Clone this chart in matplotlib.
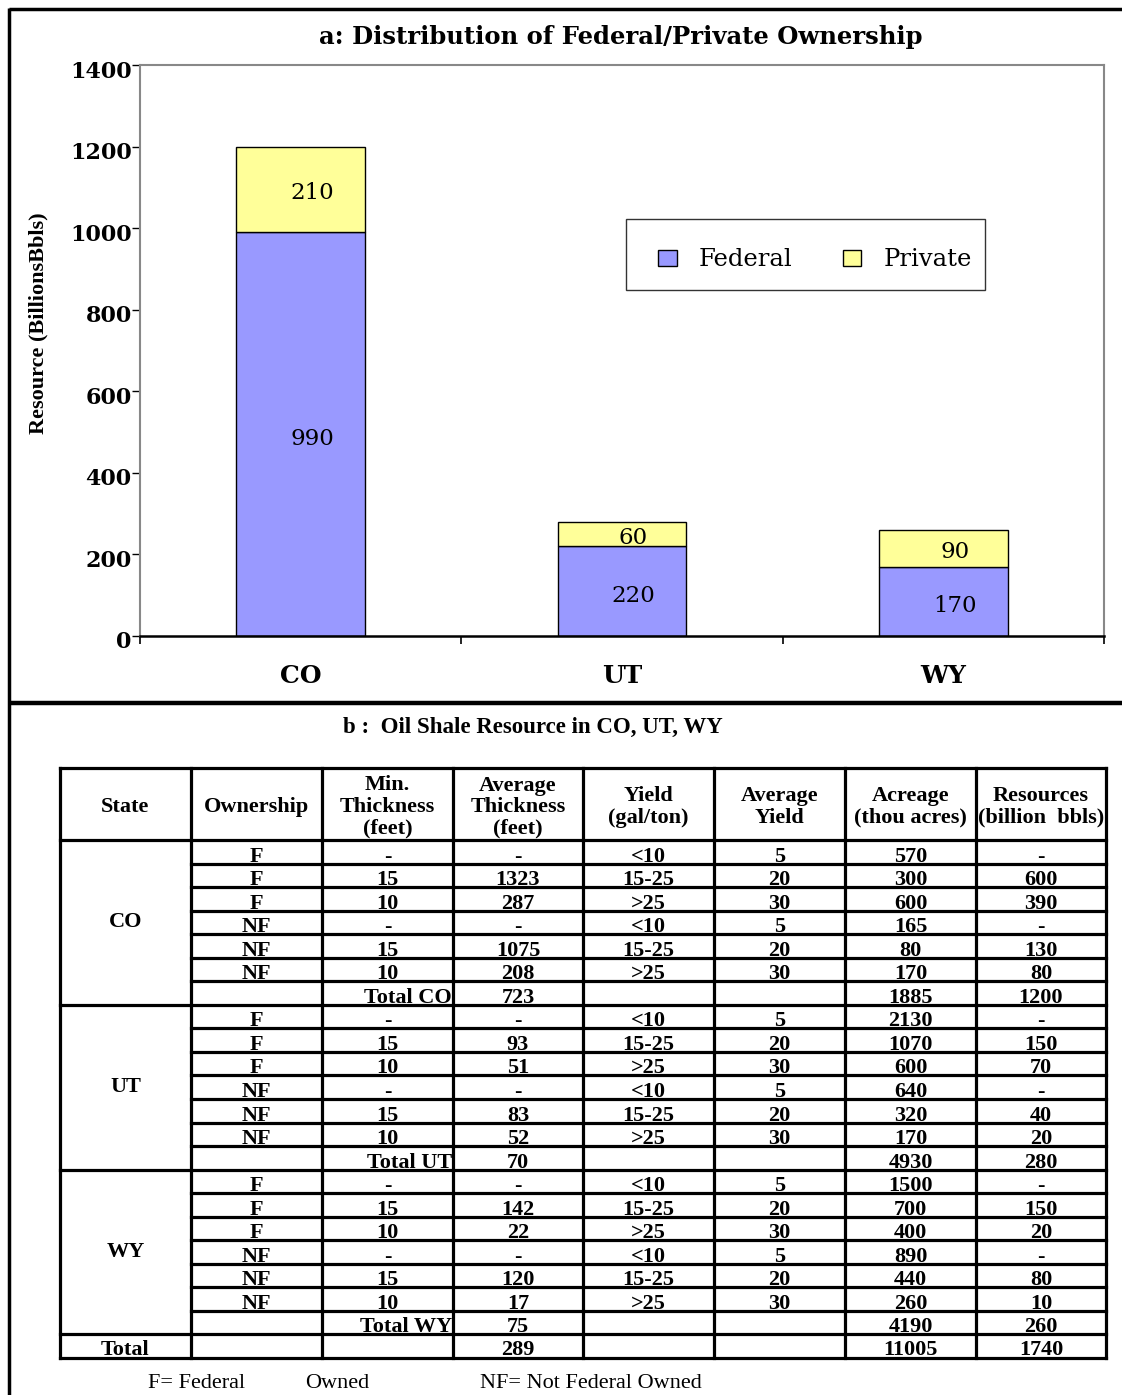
import matplotlib
matplotlib.use("Agg")
import matplotlib.pyplot as plt
import matplotlib.transforms as mtransforms
from matplotlib.patches import Rectangle, Patch

W, H = 1122, 1395

# --- dados do grafico a ---
states = ["CO", "UT", "WY"]
federal = [990, 220, 170]
private = [210, 60, 90]
y_ticks = [0, 200, 400, 600, 800, 1000, 1200, 1400]

# --- dados da tabela b ---
header = ["State", "Ownership", "Min.\nThickness\n(feet)", "Average\nThickness\n(feet)",
          "Yield\n(gal/ton)", "Average\nYield", "Acreage\n(thou acres)", "Resources\n(billion  bbls)"]
ownership = ["F", "F", "F", "NF", "NF", "NF"]
min_thickness = ["-", "15", "10", "-", "15", "10"]
yield_range = ["<10", "15-25", ">25", "<10", "15-25", ">25"]
avg_yield = ["5", "20", "30", "5", "20", "30"]

co_thickness = ["-", "1323", "287", "-", "1075", "208"]
ut_thickness = ["-", "93", "51", "-", "83", "52"]
wy_thickness = ["-", "142", "22", "-", "120", "17"]
co_acreage = ["570", "300", "600", "165", "80", "170"]
ut_acreage = ["2130", "1070", "600", "640", "320", "170"]
wy_acreage = ["1500", "700", "400", "890", "440", "260"]
co_resources = ["-", "600", "390", "-", "130", "80"]
ut_resources = ["-", "150", "70", "-", "40", "20"]
wy_resources = ["-", "150", "20", "-", "80", "10"]

state_totals = {"CO": ["723", "1885", "1200"],
                "UT": ["70", "4930", "280"],
                "WY": ["75", "4190", "260"]}
grand_total = ["289", "11005", "1740"]

blocks = [("CO", co_thickness, co_acreage, co_resources),
          ("UT", ut_thickness, ut_acreage, ut_resources),
          ("WY", wy_thickness, wy_acreage, wy_resources)]

fig = plt.figure(figsize=(W / 100, H / 100), dpi=100)

# camada de desenho em pixels (molduras, tabela, notas)
ov = fig.add_axes([0, 0, 1, 1], zorder=0)
ov.set_xlim(0, W)
ov.set_ylim(H, 0)
ov.axis("off")
ov.patch.set_facecolor("none")

# moldura externa
ov.plot([9, W], [9, 9], color="black", lw=2.5, solid_capstyle="butt")
ov.plot([9, 9], [8, H], color="black", lw=2.5, solid_capstyle="butt")
ov.plot([9, W], [703, 703], color="black", lw=3.2, solid_capstyle="butt")

# --- Grafico a: barras empilhadas ---
ax = fig.add_axes([140 / W, 1 - 636 / H, 964 / W, 571 / H], zorder=1)
ax.patch.set_facecolor("none")
x = list(range(len(states)))
ax.bar(x, federal, width=0.4, color="#9999ff", edgecolor="black", lw=1.0, label="Federal")
ax.bar(x, private, width=0.4, bottom=federal, color="#ffff99", edgecolor="black", lw=1.0, label="Private")
for xi, f, p in zip(x, federal, private):
    ax.text(xi + 0.035, f / 2 - 12, str(f), ha="center", va="center",
            family="DejaVu Serif", fontsize=16.5)
    ax.text(xi + 0.035, f + p / 2 - 10, str(p), ha="center", va="center",
            family="DejaVu Serif", fontsize=16.5)

ax.set_xlim(-0.5, 2.5)
ax.set_ylim(0, 1400)
ax.set_yticks(y_ticks)
ax.set_yticklabels([str(v) for v in y_ticks], family="DejaVu Serif", fontweight="bold", fontsize=16)
ax.set_xticks(x)
ax.set_xticklabels(states, family="DejaVu Serif", fontweight="bold", fontsize=18)
ax.set_xticks([-0.5, 0.5, 1.5, 2.5], minor=True)
ax.tick_params(axis="x", which="major", length=0, pad=20)
ax.tick_params(axis="x", which="minor", length=6, direction="out", width=1.2)
ax.tick_params(axis="y", length=6, direction="out", width=1, pad=0, colors="black")
# rotulos do eixo y um pouco abaixo dos tracos, como no original
shift = mtransforms.ScaledTranslation(0, -4 / 100, fig.dpi_scale_trans)
for lab in ax.get_yticklabels():
    lab.set_transform(lab.get_transform() + shift)
for side in ["top", "right", "left"]:
    ax.spines[side].set_color("#888888")
    ax.spines[side].set_linewidth(1.5)
ax.spines["bottom"].set_color("black")
ax.spines["bottom"].set_linewidth(1.8)
ax.set_ylabel("Resource (BillionsBbls)", family="Liberation Serif", fontweight="bold", fontsize=16)
ax.yaxis.set_label_coords(-0.095, 0.548)

fig.text(621 / W, 1 - 37 / H, "a: Distribution of Federal/Private Ownership",
         ha="center", va="center", family="DejaVu Serif", fontweight="bold", fontsize=17.5)

# legenda
ov.add_patch(Rectangle((626, 219), 359, 71, fill=False, edgecolor="#333333", lw=1.0, zorder=3))
handles = [Patch(facecolor="#9999ff", edgecolor="black", lw=1.0, label="Federal"),
           Patch(facecolor="#ffff99", edgecolor="black", lw=1.0, label="Private")]
fig.legend(handles=handles, loc="center", bbox_to_anchor=(815 / W, 1 - 260 / H), ncol=2,
           frameon=False, prop={"family": "DejaVu Serif", "size": 17.5},
           handlelength=0.75, handleheight=0.65, handletextpad=0.9, columnspacing=2.1)

# --- Tabela b ---
fig.text(533 / W, 1 - 727 / H, "b :  Oil Shale Resource in CO, UT, WY",
         ha="center", va="center", family="Liberation Serif", fontweight="bold", fontsize=16.5)

col_x = [60, 191, 322, 453, 583, 714, 845, 976, 1106]
top, head_bot, bottom = 768, 840, 1358
row_h = (bottom - head_bot) / 22
lw_t = 2.3
tfont = dict(family="Liberation Serif", fontweight="bold", fontsize=16, color="black")

def hline(y, x0=col_x[0], x1=col_x[-1]):
    ov.plot([x0, x1], [y, y], color="black", lw=lw_t, solid_capstyle="projecting", zorder=2)

for cx in col_x:
    ov.plot([cx, cx], [top, bottom], color="black", lw=lw_t, solid_capstyle="projecting", zorder=2)
hline(top)
hline(head_bot)
hline(bottom)

centers = [(col_x[i] + col_x[i + 1]) / 2 for i in range(8)]
for c, h in zip(centers, header):
    ov.text(c, 807, h, ha="center", va="center", linespacing=1.1, **tfont)

for b, (st, thick, acre, res) in enumerate(blocks):
    y0 = head_bot + b * 7 * row_h
    for r in range(7):
        yb = y0 + (r + 1) * row_h
        if r < 6:
            hline(yb, col_x[1])
        else:
            hline(yb)
    for r in range(6):
        yb = y0 + (r + 1) * row_h - 2
        vals = [ownership[r], min_thickness[r], thick[r], yield_range[r], avg_yield[r], acre[r], res[r]]
        for c, v in zip(centers[1:], vals):
            ov.text(c, yb, v, ha="center", va="baseline", **tfont)
    yb = y0 + 7 * row_h - 2
    ov.text(col_x[3] - 1, yb, "Total " + st, ha="right", va="baseline", **tfont)
    tv = state_totals[st]
    ov.text(centers[3], yb, tv[0], ha="center", va="baseline", **tfont)
    ov.text(centers[6], yb, tv[1], ha="center", va="baseline", **tfont)
    ov.text(centers[7], yb, tv[2], ha="center", va="baseline", **tfont)
    ov.text(centers[0], y0 + 3.5 * row_h, st, ha="center", va="center", **tfont)

yb = bottom - 3
ov.text(centers[0], yb, "Total", ha="center", va="baseline", **tfont)
ov.text(centers[3], yb, grand_total[0], ha="center", va="baseline", **tfont)
ov.text(centers[6], yb, grand_total[1], ha="center", va="baseline", **tfont)
ov.text(centers[7], yb, grand_total[2], ha="center", va="baseline", **tfont)

# notas de rodape
nfont = dict(family="Liberation Serif", fontsize=16, va="center", ha="left")
ov.text(148, 1383, "F= Federal", **nfont)
ov.text(305, 1383, "Owned", **nfont)
ov.text(480, 1383, "NF= Not Federal Owned", **nfont)

fig.savefig("out.png", dpi=100)
